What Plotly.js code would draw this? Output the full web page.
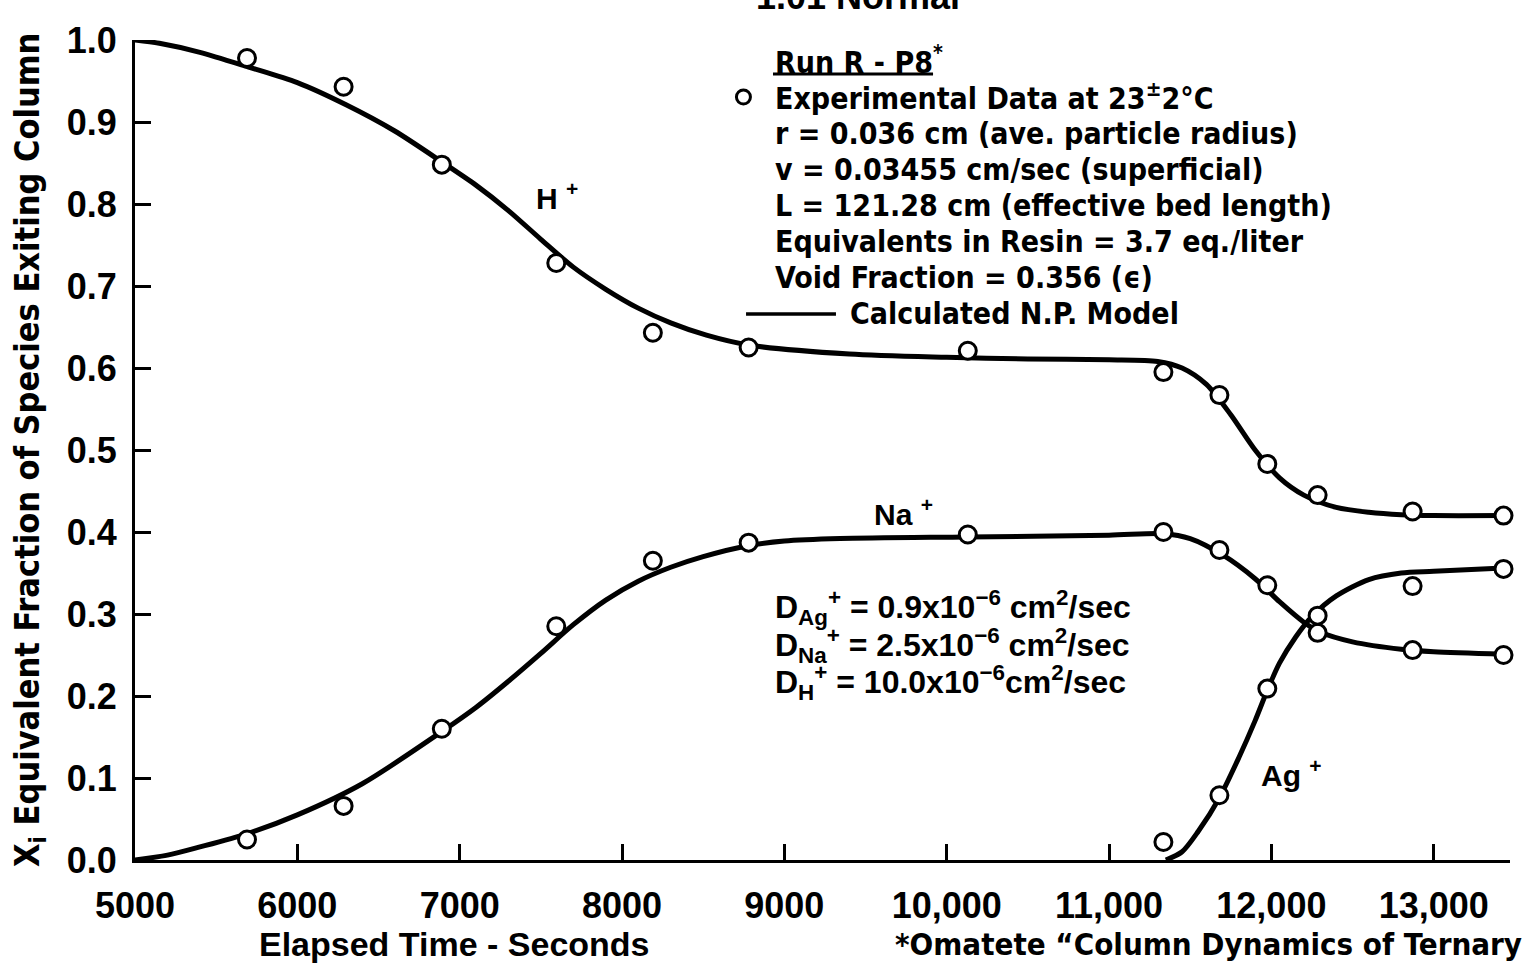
<!DOCTYPE html>
<html>
<head>
<meta charset="utf-8">
<script src="https://cdn.plot.ly/plotly-3.0.1.min.js"></script>
<style>html,body{margin:0;padding:0;background:#fff;}#chart{width:1530px;height:965px;}</style>
</head>
<body>
<div id="chart"></div>
<script>
// ---- Experimental data (open circles) ----
const expTime = [5690, 6285, 6890, 7595, 8190, 8780, 10130, 11335, 11680, 11975, 12285, 12870, 13430];
const expH    = [0.978, 0.943, 0.848, 0.728, 0.643, 0.625, 0.621, 0.595, 0.567, 0.483, 0.445, 0.425, 0.420];
const expNa   = [0.025, 0.066, 0.160, 0.285, 0.365, 0.387, 0.397, 0.400, 0.378, 0.335, 0.277, 0.256, 0.250];
const expAgTime = [11335, 11680, 11975, 12285, 12870, 13430];
const expAg     = [0.022, 0.079, 0.209, 0.298, 0.334, 0.355];

// ---- Calculated N.P. model curves ----
const modelHTime = [5000, 5150, 5400, 5700, 6000, 6300, 6600, 6900, 7100, 7300, 7500, 7700, 7900, 8100, 8300, 8520, 8780, 9400, 10000, 10500, 11000, 11300, 11450, 11600, 11750, 11900, 12050, 12200, 12400, 12600, 12800, 13000, 13430];
const modelH     = [1.000, 0.996, 0.985, 0.967, 0.948, 0.921, 0.889, 0.850, 0.823, 0.792, 0.757, 0.723, 0.696, 0.673, 0.655, 0.640, 0.628, 0.617, 0.613, 0.611, 0.610, 0.608, 0.600, 0.580, 0.543, 0.500, 0.466, 0.445, 0.430, 0.424, 0.421, 0.420, 0.420];
const modelNaTime = [5000, 5200, 5400, 5690, 6000, 6400, 6900, 7100, 7300, 7500, 7700, 7900, 8100, 8300, 8500, 8767, 9000, 9343, 10122, 11000, 11335, 11500, 11700, 11900, 12050, 12200, 12300, 12500, 12800, 13000, 13430];
const modelNa     = [0.000, 0.006, 0.016, 0.032, 0.055, 0.093, 0.158, 0.186, 0.218, 0.252, 0.287, 0.317, 0.340, 0.357, 0.370, 0.383, 0.389, 0.392, 0.394, 0.396, 0.398, 0.392, 0.372, 0.343, 0.315, 0.290, 0.278, 0.266, 0.257, 0.254, 0.251];
const modelAgTime = [11350, 11450, 11550, 11680, 11800, 11900, 11975, 12050, 12150, 12250, 12400, 12600, 12800, 13000, 13430];
const modelAg     = [0.000, 0.010, 0.035, 0.076, 0.125, 0.170, 0.207, 0.240, 0.272, 0.297, 0.322, 0.342, 0.350, 0.352, 0.356];

// ---- Axis ticks ----
const xTickVals = [5000, 6000, 7000, 8000, 9000, 10000, 11000, 12000, 13000];
const xTickText = ["5000", "6000", "7000", "8000", "9000", "10,000", "11,000", "12,000", "13,000"];
const yTickVals = [0, 0.1, 0.2, 0.3, 0.4, 0.5, 0.6, 0.7, 0.8, 0.9, 1.0];
const yTickText = ["0.0", "0.1", "0.2", "0.3", "0.4", "0.5", "0.6", "0.7", "0.8", "0.9", "1.0"];

const BOLD = "'Liberation Sans', Arial, sans-serif";
const NARROW = "'Liberation Sans Narrow', 'Arial Narrow', 'DejaVu Sans Condensed', 'Liberation Sans', sans-serif";

const lineStyle = {color: '#000', width: 5, shape: 'spline', smoothing: 0.8};
const markerStyle = {symbol: 'circle', size: 17, color: '#fff', line: {color: '#000', width: 3}};

const traces = [
  {x: modelHTime, y: modelH, mode: 'lines', line: lineStyle, name: 'H+ model'},
  {x: modelNaTime, y: modelNa, mode: 'lines', line: lineStyle, name: 'Na+ model'},
  {x: modelAgTime, y: modelAg, mode: 'lines', line: lineStyle, name: 'Ag+ model'},
  {x: expTime, y: expH, mode: 'markers', marker: markerStyle, name: 'H+ exp', cliponaxis: false},
  {x: expTime, y: expNa, mode: 'markers', marker: markerStyle, name: 'Na+ exp', cliponaxis: false},
  {x: expAgTime, y: expAg, mode: 'markers', marker: markerStyle, name: 'Ag+ exp', cliponaxis: false}
];

function leftText(x, y, text, family, size) {
  return {x: x, y: y, xref: 'x', yref: 'y', xanchor: 'left', yanchor: 'middle', showarrow: false,
          text: text, font: {family: family, size: size, color: '#000', weight: 'bold'}};
}

const legendX = 8930;
const annotations = [
  {x: 9454, y: 1, xref: 'x', yref: 'paper', xanchor: 'center', yanchor: 'bottom', yshift: 21, showarrow: false,
   text: '1.01 Normal', font: {family: BOLD, size: 36, color: '#000', weight: 'bold'}},
  leftText(legendX, 0.9756, 'Run R - P8<sup>*</sup>', NARROW, 30),
  leftText(legendX, 0.9305, 'Experimental Data at 23<sup>±</sup>2°C', NARROW, 30),
  leftText(legendX, 0.8854, 'r = 0.036 cm (ave. particle radius)', NARROW, 30),
  leftText(legendX, 0.8415, 'v = 0.03455 cm/sec (superficial)', NARROW, 30),
  leftText(legendX, 0.7976, 'L = 121.28 cm (effective bed length)', NARROW, 30),
  leftText(legendX, 0.7537, 'Equivalents in Resin = 3.7 eq./liter', NARROW, 30),
  leftText(legendX, 0.7098, 'Void Fraction = 0.356 (ϵ)', NARROW, 30),
  leftText(9392, 0.6659, 'Calculated N.P. Model', NARROW, 30),
  leftText(legendX, 0.3085, 'D<sub>Ag</sub><sup>+</sup> = 0.9x10<sup>−6</sup> cm<sup>2</sup>/sec', BOLD, 32),
  leftText(legendX, 0.2622, 'D<sub>Na</sub><sup>+</sup> = 2.5x10<sup>−6</sup> cm<sup>2</sup>/sec', BOLD, 32),
  leftText(legendX, 0.2159, 'D<sub>H</sub><sup>+</sup> = 10.0x10<sup>−6</sup>cm<sup>2</sup>/sec', BOLD, 32),
  leftText(7458, 0.81, 'H <sup>+</sup>', BOLD, 30),
  leftText(9540, 0.4244, 'Na <sup>+</sup>', BOLD, 30),
  leftText(11924, 0.106, 'Ag <sup>+</sup>', BOLD, 30),
  {x: 6970, y: 0, xref: 'x', yref: 'paper', xanchor: 'center', yanchor: 'middle', yshift: -84, showarrow: false,
   text: 'Elapsed Time - Seconds', font: {family: BOLD, size: 34, color: '#000', weight: 'bold'}},
  {x: 9669, y: 0, xref: 'x', yref: 'paper', xanchor: 'left', yanchor: 'middle', yshift: -84, showarrow: false,
   text: '*Omatete “Column Dynamics of Ternary', font: {family: NARROW, size: 31, color: '#000', weight: 'bold'}},
  {x: 0, y: 0.5, xref: 'paper', yref: 'paper', xanchor: 'center', yanchor: 'middle', xshift: -106, showarrow: false,
   textangle: -90, text: 'X<sub>i</sub> Equivalent Fraction of Species Exiting Column',
   font: {family: NARROW, size: 34, color: '#000', weight: 'bold'}}
];

const shapes = [
  // underline of "Run R - P8"
  {type: 'line', xref: 'x', yref: 'y', x0: 8930, x1: 9916, y0: 0.9585, y1: 0.9585, line: {color: '#000', width: 3}},
  // legend circle
  {type: 'circle', xref: 'x', yref: 'y', xsizemode: 'pixel', ysizemode: 'pixel', xanchor: 8748, yanchor: 0.9305,
   x0: -7, x1: 7, y0: -7, y1: 7, line: {color: '#000', width: 3}, fillcolor: '#fff'},
  // legend line sample
  {type: 'line', xref: 'x', yref: 'y', x0: 8764, x1: 9318, y0: 0.6659, y1: 0.6659, line: {color: '#000', width: 3.5}}
];

const layout = {
  width: 1530, height: 965,
  margin: {l: 135, r: 20, t: 40, b: 105},
  paper_bgcolor: '#fff', plot_bgcolor: '#fff',
  showlegend: false,
  xaxis: {
    range: [5000, 13470], showgrid: false, zeroline: false, showline: true, linewidth: 3, linecolor: '#000',
    ticks: 'inside', ticklen: 16, tickwidth: 3, tickcolor: '#000',
    tickvals: xTickVals, ticktext: xTickText, ticklabelstandoff: 12,
    tickfont: {family: BOLD, size: 36, color: '#000', weight: 'bold'}
  },
  yaxis: {
    range: [0, 1.0], showgrid: false, zeroline: false, showline: true, linewidth: 3, linecolor: '#000',
    ticks: 'inside', ticklen: 16, tickwidth: 3, tickcolor: '#000',
    tickvals: yTickVals, ticktext: yTickText, ticklabelstandoff: 8,
    tickfont: {family: BOLD, size: 36, color: '#000', weight: 'bold'}
  },
  annotations: annotations,
  shapes: shapes
};

Plotly.newPlot('chart', traces, layout, {staticPlot: true});
</script>
</body>
</html>
